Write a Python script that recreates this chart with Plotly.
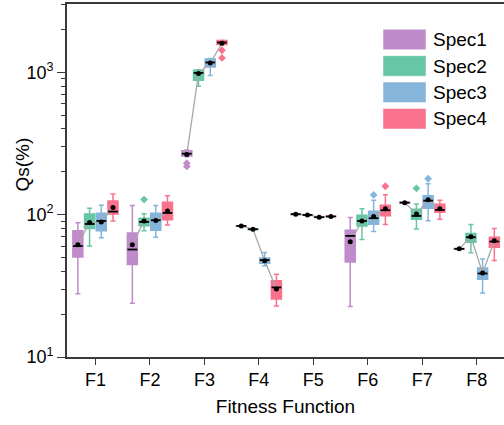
import plotly.graph_objects as go

groups = ["F1", "F2", "F3", "F4", "F5", "F6", "F7", "F8"]
specs = ["Spec1", "Spec2", "Spec3", "Spec4"]
colors = ["#C08BCB", "#66C6A6", "#85B5DB", "#F9728D"]

# per-spec box statistics across F1..F8
spec1_lo = [27.8, 23.9, 255, 82.6, 100.2, 22.6, 120.3, 56.9]
spec1_q1 = [50.3, 44.7, 258, 82.9, 100.4, 46.4, 120.7, 57.2]
spec1_med = [60.1, 56.9, 268, 83.3, 100.7, 70.9, 121.4, 57.5]
spec1_q3 = [76.9, 74.4, 281, 83.7, 101.0, 77.8, 122.1, 57.8]
spec1_hi = [87.6, 115.8, 284, 84.0, 101.2, 95.3, 122.6, 58.1]
spec1_mean = [61.4, 61.4, 265, 83.3, 100.7, 64.4, 121.4, 57.5]

spec2_lo = [60.3, 76.9, 799, 78.5, 99.2, 66.8, 79.4, 53.9]
spec2_q1 = [79.9, 83.7, 880, 78.7, 99.3, 83.3, 92.8, 64.0]
spec2_med = [86.0, 88.9, 990, 79.0, 99.5, 90.3, 97.9, 69.4]
spec2_q3 = [101.2, 94.4, 1035, 79.4, 99.7, 99.0, 109.1, 73.6]
spec2_hi = [110.9, 101.6, 1040, 79.6, 99.8, 110.2, 118.8, 85.1]
spec2_mean = [88.0, 90.3, 981, 79.0, 99.5, 90.3, 101.2, 70.0]

spec3_lo = [68.7, 69.4, 950, 43.7, 95.6, 76.0, 90.7, 28.2]
spec3_q1 = [76.9, 77.8, 1091, 45.6, 95.7, 85.7, 110.9, 35.2]
spec3_med = [90.3, 91.3, 1172, 47.9, 95.9, 94.4, 125.4, 38.6]
spec3_q3 = [102.3, 102.3, 1241, 49.5, 96.1, 105.6, 135.9, 42.1]
spec3_hi = [116.4, 115.8, 1250, 54.1, 96.2, 126.2, 165.0, 48.7]
spec3_mean = [88.9, 91.0, 1160, 47.4, 95.9, 97.0, 127.0, 38.9]

spec4_lo = [90.3, 84.7, 1560, 22.8, 96.8, 85.1, 92.8, 47.6]
spec4_q1 = [101.1, 92.2, 1566, 25.6, 96.9, 98.4, 104.0, 59.1]
spec4_med = [105.1, 102.8, 1618, 30.8, 97.1, 107.4, 107.9, 64.7]
spec4_q3 = [124.7, 122.2, 1671, 34.3, 97.3, 116.4, 118.3, 69.4]
spec4_hi = [139.7, 135.9, 1680, 38.2, 97.4, 138.1, 126.2, 79.8]
spec4_mean = [112.1, 106.2, 1600, 30.0, 97.1, 110.0, 110.0, 65.6]

# outliers: (group index, value)
spec1_out = [(2, 230), (2, 218)]
spec2_out = [(1, 127.6), (6, 153)]
spec3_out = [(5, 137.5), (6, 178.7)]
spec4_out = [(2, 1428), (2, 1262), (5, 158.2)]

ytick_vals = [10, 100, 1000]
ytick_text = ["10<sup>1</sup>", "10<sup>2</sup>", "10<sup>3</sup>"]

stats = [
    (spec1_lo, spec1_q1, spec1_med, spec1_q3, spec1_hi, spec1_mean, spec1_out),
    (spec2_lo, spec2_q1, spec2_med, spec2_q3, spec2_hi, spec2_mean, spec2_out),
    (spec3_lo, spec3_q1, spec3_med, spec3_q3, spec3_hi, spec3_mean, spec3_out),
    (spec4_lo, spec4_q1, spec4_med, spec4_q3, spec4_hi, spec4_mean, spec4_out),
]

SLOT = 0.215
BOXW = 0.184
def pos(k, g):
    return (g + 1) + (k - 1.5) * SLOT

fig = go.Figure()

# connecting mean lines (under boxes)
lx, ly = [], []
for g in range(len(groups)):
    for k in range(4):
        lx.append(pos(k, g))
        ly.append(stats[k][5][g])
    lx.append(None)
    ly.append(None)
fig.add_trace(go.Scatter(x=lx, y=ly, mode="lines", line=dict(color="#A8A8A8", width=1.3),
                         showlegend=False, hoverinfo="skip"))

for k in range(4):
    lo, q1, med, q3, hi, mean, out = stats[k]
    xs = [pos(k, g) for g in range(len(groups))]
    fig.add_trace(go.Box(
        x=xs, q1=q1, median=med, q3=q3, lowerfence=lo, upperfence=hi,
        width=BOXW, whiskerwidth=0.5, fillcolor=colors[k],
        line=dict(color=colors[k], width=1.5), name=specs[k], showlegend=False,
        boxpoints=False,
    ))
    if out:
        fig.add_trace(go.Scatter(
            x=[pos(k, g) for g, v in out], y=[v for g, v in out], mode="markers",
            marker=dict(symbol="diamond", size=6, color=colors[k]),
            showlegend=False, hoverinfo="skip"))
    # black median
    fig.add_trace(go.Scatter(
        x=xs, y=med, mode="markers",
        marker=dict(symbol="line-ew", size=7, line=dict(color="black", width=1.8)),
        showlegend=False, hoverinfo="skip"))
    # mean dots
    fig.add_trace(go.Scatter(
        x=xs, y=mean, mode="markers",
        marker=dict(symbol="circle", size=5, color="black"),
        showlegend=False, hoverinfo="skip"))

# manual legend with large swatches
L, T, W, H = 67, 4, 437, 353
def px(xp):
    return (xp - L) / W
def py(yp):
    return (T + H - yp) / H
shapes, annots = [], []
for k in range(4):
    top = 29.3 + 26.4 * k
    shapes.append(dict(type="rect", xref="paper", yref="paper",
                       x0=px(383), x1=px(426), y0=py(top + 20.5), y1=py(top),
                       fillcolor=colors[k], line=dict(width=0.8, color="rgba(255,255,255,0.6)")))
    annots.append(dict(xref="paper", yref="paper", x=px(431), y=py(top + 10.5),
                       text=specs[k], showarrow=False, xanchor="left", yanchor="middle",
                       font=dict(size=19, color="black")))
annots.append(dict(xref="paper", yref="paper", x=px(22), y=py(164.5), text="Qs(%)",
                   textangle=-90, showarrow=False, xanchor="center", yanchor="middle",
                   font=dict(size=19, color="black")))

axcol = "#3A3A3A"
fig.update_layout(
    width=504, height=425,
    margin=dict(l=L, r=0, t=T, b=425 - T - H),
    paper_bgcolor="white", plot_bgcolor="white",
    font=dict(family="Liberation Sans, Arial", color="black"),
    boxmode="overlay", showlegend=False,
    shapes=shapes, annotations=annots,
    xaxis=dict(range=[0.478, 8.5], tickvals=list(range(1, len(groups) + 1)), ticktext=groups,
               showgrid=False, zeroline=False, showline=True, linecolor=axcol, linewidth=1.6,
               mirror=True, ticks="outside", ticklen=6, tickwidth=1.4, tickcolor=axcol,
               tickfont=dict(size=18),
               title=dict(text="Fitness Function", font=dict(size=19), standoff=10)),
    yaxis=dict(type="log", range=[1, 3.4795], tickvals=ytick_vals, ticktext=ytick_text,
               showgrid=False, zeroline=False, showline=True, linecolor=axcol, linewidth=1.6,
               ticks="outside", ticklen=8, tickwidth=1.4, tickcolor=axcol,
               tickfont=dict(size=18),
               minor=dict(ticks="outside", ticklen=4, tickwidth=1.2, tickcolor=axcol,
                          dtick="D1", showgrid=False)),
)

fig.write_html("out.html")
